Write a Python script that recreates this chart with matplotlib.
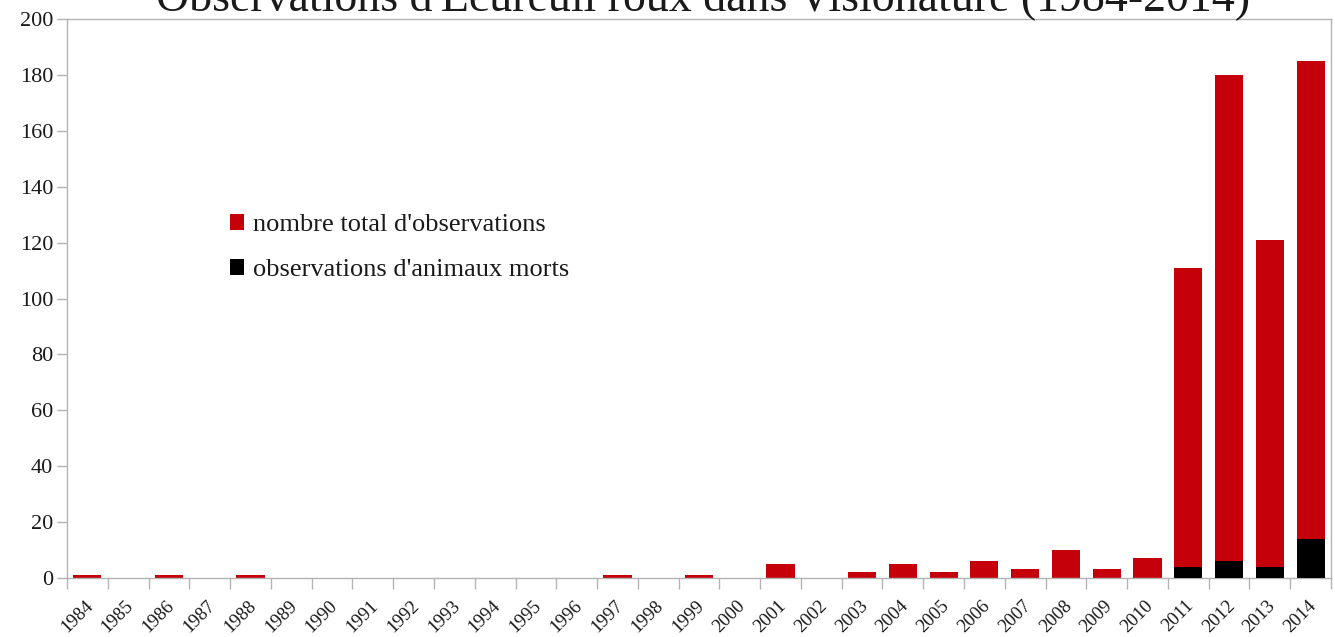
import matplotlib
matplotlib.use('Agg')
import matplotlib.pyplot as plt
import matplotlib.transforms as mtransforms
import numpy as np

years = list(range(1984, 2015))
total_obs = [1, 0, 1, 0, 1, 0, 0, 0, 0, 0, 0, 0, 0, 1, 0, 1, 0, 5, 0, 2,
             5, 2, 6, 3, 10, 3, 7, 111, 180, 121, 185]
dead_obs = [0, 0, 0, 0, 0, 0, 0, 0, 0, 0, 0, 0, 0, 0, 0, 0, 0, 0, 0, 0,
            0, 0, 0, 0, 0, 0, 0, 4, 6, 4, 14]

title = "Observations d'Ecureuil roux dans Visionature (1984-2014)"
label_total = "nombre total d'observations"
label_dead = "observations d'animaux morts"

RED = '#C5000B'
GREY = '#B3B3B3'
TXT = '#1a1a1a'

plt.rcParams['font.family'] = ['Liberation Serif', 'DejaVu Serif']

fig = plt.figure(figsize=(13.35, 6.37), dpi=100)
ax = fig.add_axes([67 / 1335, 1 - 577.7 / 637, (1331 - 67) / 1335, (577.7 - 19.3) / 637])

x = np.arange(len(years))
ax.bar(x, total_obs, width=0.69, color=RED, label=label_total, zorder=2)
ax.bar(x, dead_obs, width=0.69, color='black', label=label_dead, zorder=3)

ax.set_xlim(-0.5, len(years) - 0.5)
ax.set_ylim(0, 200)
ax.set_yticks(range(0, 201, 20))
ax.tick_params(axis='y', length=7, width=1, color=GREY, labelsize=16, labelcolor=TXT, pad=3)

ax.set_xticks(x)
ax.set_xticklabels([str(y) for y in years], rotation=45, ha='right',
                   rotation_mode='anchor', fontsize=13.5, color=TXT)
ax.set_xticks(np.arange(-0.5, len(years)), minor=True)
ax.tick_params(axis='x', which='major', length=0, pad=14)
ax.tick_params(axis='x', which='minor', length=8, width=1, color=GREY)
# nudge the rotated labels a little to the left
shift = mtransforms.ScaledTranslation(-3 / 100, 0, fig.dpi_scale_trans)
for lab in ax.get_xticklabels():
    lab.set_transform(lab.get_transform() + shift)

for s in ax.spines.values():
    s.set_color(GREY)
    s.set_linewidth(1)

fig.text(0.5265, 1 - 10 / 637, title, ha='center', va='baseline', fontsize=33, color=TXT)

ax.legend(loc='upper left', bbox_to_anchor=(230 / 1335, 1 - 214 / 637),
          bbox_transform=fig.transFigure, frameon=False, fontsize=19,
          handlelength=0.53, handleheight=0.53, handletextpad=0.35,
          labelspacing=0.87, borderpad=0, borderaxespad=0, labelcolor=TXT)

fig.savefig('out.png', dpi=100)
